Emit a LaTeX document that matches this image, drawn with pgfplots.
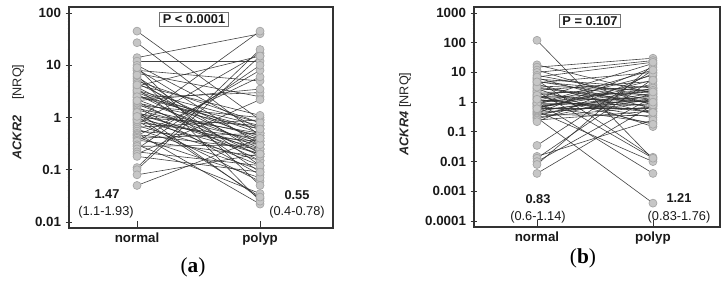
\documentclass[border=0pt]{standalone}
\usepackage{fontspec}
\setmainfont{Liberation Sans}
\newfontfamily\seriffont{Liberation Serif}
\usepackage{pgfplots}
\usepackage{pgfplotstable}
\pgfplotsset{compat=1.18}
\definecolor{mk}{HTML}{C6C6C6}
\definecolor{mkd}{HTML}{A4A4A4}
\definecolor{ln}{HTML}{2E2E2E}
\definecolor{ax}{HTML}{333333}

\pgfplotstableread{
n p
45 0.9
27 0.45
14 40
12 12
10 0.6
8.5 0.3
8 5
7 2.5
6 0.2
5.5 0.12
5 0.8
4.5 0.35
4 15
3.8 0.25
3.5 0.09
3.2 0.5
3 0.4
2.8 0.18
2.6 0.7
2.4 3
2.2 0.3
2 0.15
1.9 0.6
1.8 0.22
1.7 1.0
1.6 0.08
1.5 0.45
1.4 0.35
1.3 0.028
1.2 0.5
1.15 0.25
1.1 0.12
1.0 0.7
0.95 0.3
0.9 0.2
0.85 0.06
0.8 0.4
0.75 17
0.7 0.15
0.65 0.9
0.6 0.1
0.55 0.35
0.5 0.022
0.47 0.25
0.45 6
0.42 0.07
0.4 0.5
0.37 0.18
0.35 8
0.3 0.035
0.28 0.3
0.25 10
0.22 0.12
0.2 2.2
0.18 0.09
0.11 20
0.1 15
0.08 0.2
0.05 0.4
6.5 0.025
9 0.05
3.3 0.8
2.5 0.6
1.25 0.2
0.9 45
4.2 1.1
1.05 0.03
2.1 3.5
}\pairsA

\pgfplotstableread{
n p
120 0.012
18 2
15 30
12 0.8
10 25
8 1.5
6.5 0.6
6 3
5.5 0.014
5 1.2
4.5 10
4 0.4
3.5 2.5
3 0.9
2.8 0.15
2.5 5
2.2 1.8
2 0.7
1.8 3.5
1.6 1
1.5 0.3
1.4 2.2
1.3 20
1.2 0.5
1.1 1.4
1.0 0.004
0.95 2.8
0.9 0.8
0.85 8
0.8 1.1
0.75 0.2
0.7 1.6
0.65 4
0.6 0.6
0.55 1.3
0.5 0.01
0.48 2
0.45 0.9
0.42 15
0.4 1.2
0.38 0.35
0.35 3
0.32 0.7
0.3 0.0004
0.28 1.8
0.25 0.5
0.035 12
0.015 0.25
0.013 6
0.01 1.5
0.008 18
0.004 0.8
0.22 9
2.3 0.013
7 22
1.7 0.18
0.7 2.5
3.2 1.0
0.9 12
1.25 0.45
0.6 5.5
4.8 2.2
}\pairsB

\pgfplotstablegetrowsof{\pairsA}
\pgfmathtruncatemacro{\NA}{\pgfplotsretval-1}
\pgfplotstablegetrowsof{\pairsB}
\pgfmathtruncatemacro{\NB}{\pgfplotsretval-1}

\tikzset{
  pairline/.style={ln, line width=0.45pt, opacity=0.9},
}

\begin{document}
\begin{tikzpicture}
\path[use as bounding box] (0pt,0pt) rectangle (544.5pt,-216pt);

% ---------- panel (a)
\begin{axis}[
  scale only axis, anchor=north west,
  at={(51.75pt,-5.25pt)}, width=198pt, height=165.75pt,
  ymode=log,
  xmin=-0.553, xmax=1.593,
  ymin=0.00767, ymax=130.3,
  ytick={0.01,0.1,1,10,100},
  yticklabels={0.01,0.1,1,10,100},
  xtick={0,1}, xticklabels={normal,polyp},
  xtick pos=bottom, ytick pos=left,
  axis line style={ax, line width=1.1pt},
  tick style={ax, line width=0.6pt},
  xtick align=inside, ytick align=center,
  major tick length=5pt, minor tick length=2pt,
  ticklabel style={font=\fontsize{10}{12}\selectfont\bfseries, text=black!90},
  /pgf/number format/assume math mode=true,
]
\pgfplotsforeachungrouped \i in {0,...,\NA}{
  \pgfplotstablegetelem{\i}{n}\of{\pairsA}\let\vn\pgfplotsretval
  \pgfplotstablegetelem{\i}{p}\of{\pairsA}\let\vp\pgfplotsretval
  \edef\temp{\noexpand\addplot[pairline, mark=none] coordinates {(0,\vn) (1,\vp)};}
  \temp
}
\addplot[only marks, mark=*, mark size=3pt, mark options={fill=mk, draw=mkd, line width=0.5pt}] table[x expr=0, y=n] {\pairsA};
\addplot[only marks, mark=*, mark size=3pt, mark options={fill=mk, draw=mkd, line width=0.5pt}] table[x expr=1, y=p] {\pairsA};
\end{axis}

% ---------- panel (b)
\begin{axis}[
  scale only axis, anchor=north west,
  at={(355.5pt,-5.25pt)}, width=184.5pt, height=165pt,
  ymode=log,
  xmin=-0.543, xmax=1.578,
  ymin=0.0000631, ymax=1585,
  ytick={0.0001,0.001,0.01,0.1,1,10,100,1000},
  yticklabels={0.0001,0.001,0.01,0.1,1,10,100,1000},
  xtick={0,1}, xticklabels={normal,polyp},
  xtick pos=bottom, ytick pos=left,
  axis line style={ax, line width=1.1pt},
  tick style={ax, line width=0.6pt},
  xtick align=inside, ytick align=center,
  major tick length=5pt, minor tick length=2pt,
  ticklabel style={font=\fontsize{10}{12}\selectfont\bfseries, text=black!90},
  /pgf/number format/assume math mode=true,
]
\pgfplotsforeachungrouped \i in {0,...,\NB}{
  \pgfplotstablegetelem{\i}{n}\of{\pairsB}\let\vn\pgfplotsretval
  \pgfplotstablegetelem{\i}{p}\of{\pairsB}\let\vp\pgfplotsretval
  \edef\temp{\noexpand\addplot[pairline, mark=none] coordinates {(0,\vn) (1,\vp)};}
  \temp
}
\addplot[only marks, mark=*, mark size=3pt, mark options={fill=mk, draw=mkd, line width=0.5pt}] table[x expr=0, y=n] {\pairsB};
\addplot[only marks, mark=*, mark size=3pt, mark options={fill=mk, draw=mkd, line width=0.5pt}] table[x expr=1, y=p] {\pairsB};
\end{axis}

% y labels
\node[rotate=90, font=\fontsize{9.5}{11}\selectfont, text=black!85] at (13.5pt,-84pt)
  {\textbf{\textit{ACKR2}}\hspace{12pt}[NRQ]};
\node[rotate=90, font=\fontsize{9.5}{11}\selectfont, text=black!85] at (303.75pt,-85.5pt)
  {\textbf{\textit{ACKR4}}\hspace{3pt}[NRQ]};

% P boxes
\node[draw=black!55, line width=0.8pt, fill=white, inner xsep=2.5pt, inner ysep=1.6pt,
  font=\fontsize{9.6}{11}\selectfont\bfseries, text=black!90] at (145.5pt,-14.6pt) {P < 0.0001};
\node[draw=black!55, line width=0.8pt, fill=white, inner xsep=2.5pt, inner ysep=1.6pt,
  font=\fontsize{9.6}{11}\selectfont\bfseries, text=black!90] at (442.5pt,-15.75pt) {P = 0.107};

% medians
\node[text=black!90, font=\fontsize{9.6}{11}\selectfont\bfseries] at (80.25pt,-145.5pt) {1.47};
\node[text=black!90, font=\fontsize{9.6}{11}\selectfont] at (79.5pt,-159pt) {(1.1-1.93)};
\node[text=black!90, font=\fontsize{9.6}{11}\selectfont\bfseries] at (222.75pt,-146.25pt) {0.55};
\node[text=black!90, font=\fontsize{9.6}{11}\selectfont] at (222.75pt,-159pt) {(0.4-0.78)};
\node[text=black!90, font=\fontsize{9.6}{11}\selectfont\bfseries] at (403.5pt,-149.25pt) {0.83};
\node[text=black!90, font=\fontsize{9.6}{11}\selectfont] at (403.5pt,-162.75pt) {(0.6-1.14)};
\node[text=black!90, font=\fontsize{9.6}{11}\selectfont\bfseries] at (509.25pt,-148.5pt) {1.21};
\node[text=black!90, font=\fontsize{9.6}{11}\selectfont] at (509.25pt,-162.75pt) {(0.83-1.76)};

% panel letters
\node[font=\seriffont\fontsize{16}{18}\selectfont] at (144.75pt,-200.25pt) {(\textbf{a})};
\node[font=\seriffont\fontsize{16}{18}\selectfont] at (437.25pt,-193.5pt) {(\textbf{b})};
\end{tikzpicture}
\end{document}
